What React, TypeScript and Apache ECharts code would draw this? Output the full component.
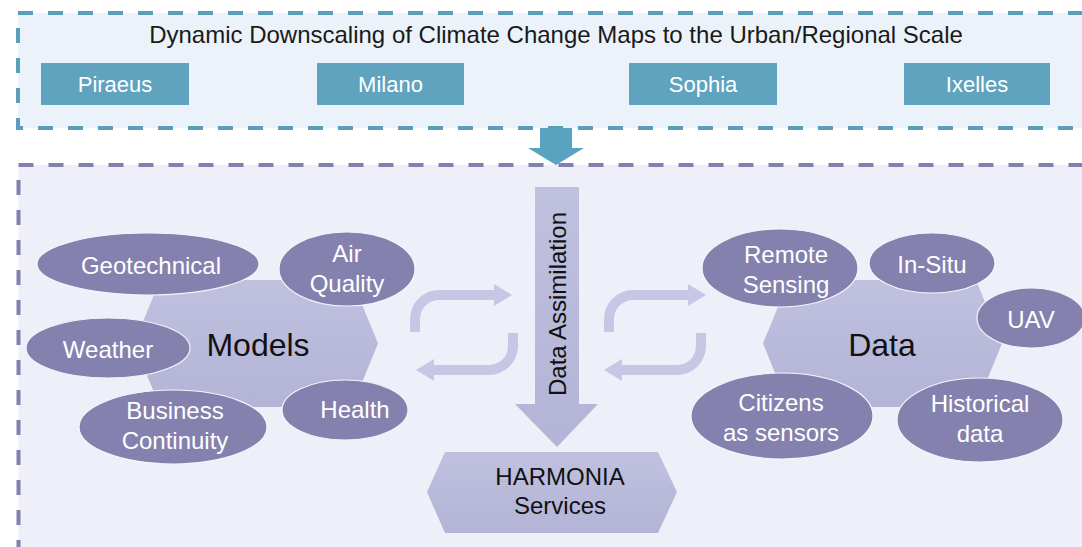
import React, { useEffect, useRef } from "react";
import * as echarts from "echarts";

const titleText = "Dynamic Downscaling of Climate Change Maps to the Urban/Regional Scale";
const cities = ["Piraeus", "Milano", "Sophia", "Ixelles"];
const modelLabels = ["Geotechnical", "Air\nQuality", "Weather", "Business\nContinuity", "Health"];
const dataLabels = ["Remote\nSensing", "In-Situ", "UAV", "Citizens\nas sensors", "Historical\ndata"];
const hubLabels = ["Models", "Data"];
const assimilationLabel = "Data Assimilation";
const servicesLabel = "HARMONIA\nServices";

// layout (positions/sizes)
const cityBoxes = [
  { x: 41, w: 148 },
  { x: 317, w: 147 },
  { x: 629, w: 148 },
  { x: 904, w: 146 },
];
const modelEllipses = [
  { cx: 148, cy: 264, rx: 111, ry: 31, tx: 151, ty: 265 },
  { cx: 347, cy: 269, rx: 68, ry: 37, tx: 347, ty: 268 },
  { cx: 108, cy: 348, rx: 82, ry: 30, tx: 108, ty: 349 },
  { cx: 173, cy: 427, rx: 94, ry: 37, tx: 175, ty: 425 },
  { cx: 345, cy: 410, rx: 63, ry: 30, tx: 355, ty: 409 },
];
const dataEllipses = [
  { cx: 780, cy: 268, rx: 78, ry: 39, tx: 786, ty: 269 },
  { cx: 932, cy: 263, rx: 63, ry: 30, tx: 932, ty: 264 },
  { cx: 1031, cy: 318, rx: 54, ry: 30, tx: 1031, ty: 319 },
  { cx: 782, cy: 416, rx: 91, ry: 43, tx: 781, ty: 417 },
  { cx: 980, cy: 420, rx: 83, ry: 42, tx: 980, ty: 418 },
];

const ARROW_D =
  "M -5 0 L -5 -13 A 29 29 0 0 1 24 -42 L 79 -42 L 79 -48 L 97 -37 L 79 -26 L 79 -32 L 24 -32 A 19 19 0 0 0 5 -13 L 5 0 Z";

let registered = false;
function registerShapes() {
  if (registered) return;
  registered = true;
  echarts.graphic.registerShape("curvedArrow", echarts.graphic.extendPath(ARROW_D, {}) as any);
}

const FONT = "'Liberation Sans', Arial, sans-serif";
const ELL_FILL = "#8581ae";
const HEX_FILL = {
  type: "linear",
  x: 0,
  y: 0,
  x2: 0,
  y2: 1,
  colorStops: [
    { offset: 0, color: "#c0c1df" },
    { offset: 1, color: "#b3b4d6" },
  ],
};

function label(text: string, x: number, y: number, size: number, fill: string, lh = 30, extra: any = {}) {
  return {
    type: "text",
    x,
    y,
    z: 20,
    ...extra,
    style: {
      text,
      x: 0,
      y: 0,
      fill,
      font: `${size}px ${FONT}`,
      textAlign: "center",
      textVerticalAlign: "middle",
      align: "center",
      verticalAlign: "middle",
      lineHeight: lh,
    },
  };
}

function ellipses(list: any[], labels: string[]) {
  const out: any[] = [];
  list.forEach((e, i) => {
    out.push({
      type: "ellipse",
      z: 10,
      shape: { cx: e.cx, cy: e.cy, rx: e.rx, ry: e.ry },
      style: { fill: ELL_FILL, stroke: "#f4f4fa", lineWidth: 1.2 },
    });
    out.push(label(labels[i], e.tx, e.ty, 24, "#ffffff", 30));
  });
  return out;
}

function hexagon(l: number, r: number, t: number, b: number, off: number) {
  const my = (t + b) / 2;
  return {
    type: "polygon",
    z: 5,
    shape: {
      points: [
        [l, my],
        [l + off, t],
        [r - off, t],
        [r, my],
        [r - off, b],
        [l + off, b],
      ],
    },
    style: { fill: HEX_FILL },
  };
}

export default function App() {
  const ref = useRef<HTMLDivElement>(null);
  useEffect(() => {
    if (!ref.current) return;
    registerShapes();
    const chart = echarts.init(ref.current, undefined, { renderer: "svg" });
    const elements: any[] = [];

    // top box
    elements.push({
      type: "rect",
      z: 1,
      shape: { x: 18, y: 13, width: 1070, height: 115 },
      style: { fill: "#ebf2f9", stroke: "#5c9dba", lineWidth: 4, lineDash: [15, 15] },
    });
    // bottom box
    elements.push({
      type: "rect",
      z: 1,
      shape: { x: 18.5, y: 165, width: 1070, height: 400 },
      style: { fill: "#eeeff8", stroke: "#837fb0", lineWidth: 4, lineDash: [15, 15] },
    });
    elements.push(label(titleText, 556, 34, 24, "#1a1a1a"));
    cityBoxes.forEach((c, i) => {
      elements.push({
        type: "rect",
        z: 5,
        shape: { x: c.x, y: 63, width: c.w, height: 42 },
        style: { fill: "#5fa3bf" },
      });
      elements.push(label(cities[i], c.x + c.w / 2, 84, 22, "#ffffff"));
    });
    // teal arrow
    elements.push({
      type: "polygon",
      z: 6,
      shape: {
        points: [
          [540, 128],
          [572, 128],
          [572, 148],
          [584, 148],
          [556, 165],
          [528, 148],
          [540, 148],
        ],
      },
      style: { fill: "#5aa3c0" },
    });

    // hexagons
    elements.push(hexagon(134, 378, 280, 407, 26));
    elements.push(hexagon(763, 1002, 280, 407, 26));
    elements.push(label(hubLabels[0], 258, 345, 32, "#111111"));
    elements.push(label(hubLabels[1], 882, 345, 32, "#111111"));

    elements.push(...ellipses(modelEllipses, modelLabels));
    elements.push(...ellipses(dataEllipses, dataLabels));

    // Data assimilation arrow
    elements.push({
      type: "polygon",
      z: 5,
      shape: {
        points: [
          [535, 187],
          [579, 187],
          [579, 404],
          [598, 404],
          [557, 447],
          [515, 404],
          [535, 404],
        ],
      },
      style: { fill: HEX_FILL },
    });
    elements.push(label(assimilationLabel, 557, 304, 24, "#111111", 30, { rotation: Math.PI / 2 }));

    // services hexagon
    elements.push({
      type: "polygon",
      z: 5,
      shape: {
        points: [
          [427, 492],
          [445, 452],
          [658, 452],
          [677, 492],
          [658, 533],
          [445, 533],
        ],
      },
      style: { fill: HEX_FILL },
    });
    elements.push(label(servicesLabel, 560, 491, 24, "#111111", 29));

    // curved arrows
    const arrowFill = "#c6c7e4";
    const arrows = [
      { x: 415, y: 332, rot: 0 },
      { x: 513, y: 333, rot: Math.PI },
      { x: 609, y: 332, rot: 0 },
      { x: 701, y: 333, rot: Math.PI },
    ];
    arrows.forEach((a) => {
      elements.push({
        type: "curvedArrow",
        z: 4,
        x: a.x,
        y: a.y,
        rotation: a.rot,
        style: { fill: arrowFill },
      });
    });

    chart.setOption({
      animation: false,
      backgroundColor: "#ffffff",
      graphic: { elements },
    });
    return () => chart.dispose();
  }, []);
  return (
    <div
      ref={ref}
      style={{ position: "fixed", left: 0, top: 0, width: 1082, height: 547 }}
    />
  );
}
